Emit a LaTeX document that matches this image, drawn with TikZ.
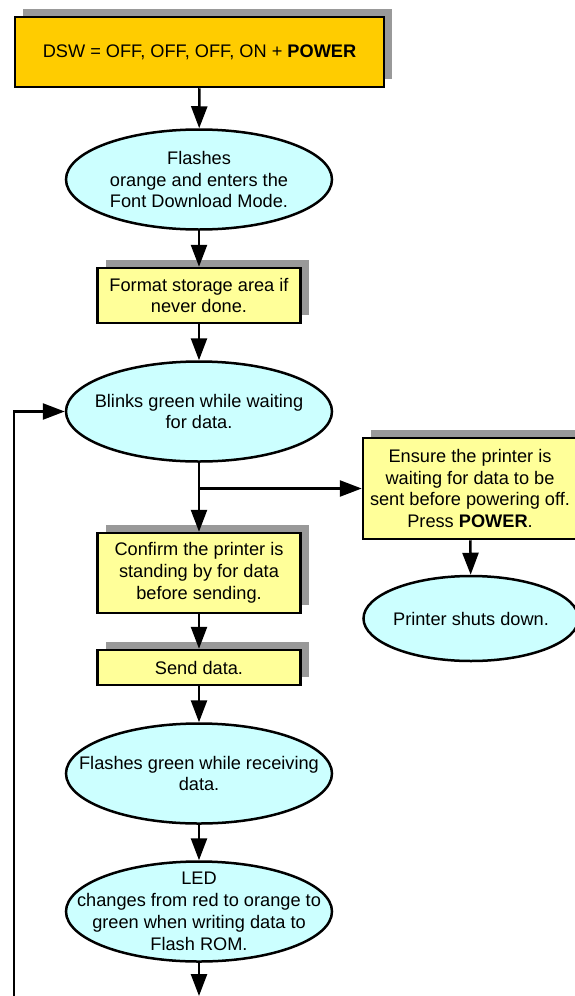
\documentclass[tikz,border=0pt]{standalone}
\usepackage{fontspec}
\setmainfont{Liberation Sans}
\usetikzlibrary{arrows.meta,shapes.geometric,shadows}
\definecolor{orangebox}{HTML}{FFCC00}
\definecolor{yellowbox}{HTML}{FFFF99}
\definecolor{cyanell}{HTML}{CCFFFF}
\definecolor{shadowgray}{HTML}{999999}
\begin{document}
\begin{tikzpicture}[x=1pt,y=-1pt,
  font=\fontsize{18.2}{21.8}\selectfont,
  boxbase/.style={rectangle,draw=black,line width=2.5pt,inner sep=0pt,align=center,
    general shadow={fill=shadowgray,shadow xshift=8pt,shadow yshift=8pt}},
  topbox/.style={boxbase,fill=orangebox},
  stepbox/.style={boxbase,fill=yellowbox},
  ellbox/.style={ellipse,draw=black,fill=cyanell,line width=2.5pt,inner sep=0pt},
  etext/.style={label={[align=center,inner sep=0pt]center:#1}},
  conn/.style={line width=2.5pt,-{Triangle[length=22pt,width=16pt]}}]
\useasboundingbox (0,0) rectangle (574,996);
\node[topbox,minimum width=369pt,minimum height=70pt] (top) at (199.5,52)
  {DSW = OFF, OFF, OFF, ON + \textbf{POWER}};
\node[ellbox,minimum width=266pt,minimum height=100pt,
  etext={Flashes\\orange and enters the\\Font Download Mode.}] (e1) at (199,179.5) {};
\node[stepbox,minimum width=203pt,minimum height=55pt] (b2) at (199,295.5)
  {Format storage area if\\never done.};
\node[ellbox,minimum width=266pt,minimum height=100pt,
  etext={Blinks green while waiting\\for data.}] (e2) at (199,411.5) {};
\node[stepbox,minimum width=214pt,minimum height=101pt] (ens) at (470,488.5)
  {Ensure the printer is\\waiting for data to be\\sent before powering off.\\Press \textbf{POWER}.};
\node[ellbox,minimum width=215pt,minimum height=85pt,
  etext={Printer shuts down.}] (off) at (471,618.5) {};
\node[stepbox,minimum width=203pt,minimum height=80pt] (conf) at (199,573)
  {Confirm the printer is\\standing by for data\\before sending.};
\node[stepbox,minimum width=203pt,minimum height=35pt] (send) at (199,667.5)
  {Send data.};
\node[ellbox,minimum width=266pt,minimum height=100pt,
  etext={Flashes green while receiving\\data.}] (e3) at (199,773.5) {};
\node[ellbox,minimum width=266pt,minimum height=100pt,
  etext={LED\\changes from red to orange to\\green when writing data to\\Flash ROM.}] (e4) at (199,911.5) {};
\coordinate (lb) at (14,1000);
\coordinate (br) at (199,488.5);
\coordinate (bt) at (199,996);
\draw[conn] (top) -- (e1);
\draw[conn] (e1) -- (b2);
\draw[conn] (b2) -- (e2);
\draw[conn] (e2) -- (conf);
\draw[conn] (br) -- (ens.west);
\draw[conn] (ens) -- (off);
\draw[conn] (conf) -- (send);
\draw[conn] (send) -- (e3);
\draw[conn] (e3) -- (e4);
\draw[conn] (e4) -- (bt);
\draw[conn] (lb) |- (e2.west);
\end{tikzpicture}
\end{document}
